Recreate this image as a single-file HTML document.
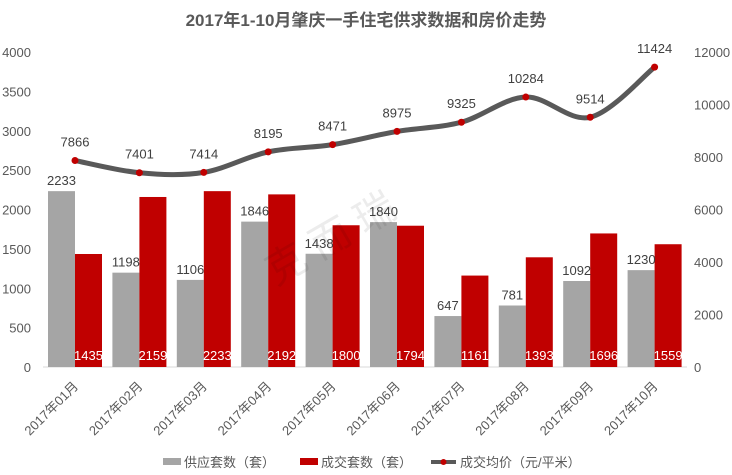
<!DOCTYPE html><html><head><meta charset="utf-8"><style>body{margin:0;background:#fff}svg{display:block;font-family:"Liberation Sans","Noto Sans CJK SC",sans-serif}</style></head><body>
<svg id="s" width="732" height="475" xmlns="http://www.w3.org/2000/svg"></svg>
<script>
const s=document.getElementById('s');let h='';
const sup=[2233,1198,1106,1846,1438,1840,647,781,1092,1230],
deal=[1435,2159,2233,2192,1800,1794,1161,1393,1696,1559],
pr=[7866,7401,7414,8195,8471,8975,9325,10284,9514,11424];
const base=367,k=315/4000,k2=315/12000;
h+=`<text x="366" y="26" text-anchor="middle" font-size="17" font-weight="bold" fill="#595959">2017年1-10月肇庆一手住宅供求数据和房价走势</text>`;
for(let i=0;i<=8;i++){let v=i*500,y=base-v*k;h+=`<text x="31" y="${y+5}" text-anchor="end" font-size="13" fill="#595959">${v}</text>`;}
for(let i=0;i<=6;i++){let v=i*2000,y=base-v*k2;h+=`<text x="694" y="${y+5}" font-size="13" fill="#595959">${v}</text>`;}
h+=`<line x1="43" y1="${base}" x2="687" y2="${base}" stroke="#d9d9d9"/>`;
const cx=i=>75+i*64.4;
for(let i=0;i<10;i++){let c=cx(i),g=sup[i]*k,r=deal[i]*k;
h+=`<rect x="${c-27}" y="${base-g}" width="27" height="${g}" fill="#a5a5a5"/>`;
h+=`<rect x="${c}" y="${base-r}" width="27" height="${r}" fill="#c00000"/>`;
h+=`<text x="${c-13.5}" y="${base-g-6}" text-anchor="middle" font-size="13" fill="#404040">${sup[i]}</text>`;
h+=`<text x="${c+13.5}" y="360" text-anchor="middle" font-size="13" fill="#fff">${deal[i]}</text>`;
h+=`<text transform="translate(${c+4},387) rotate(-45)" text-anchor="end" font-size="13" fill="#595959">2017年${String(i+1).padStart(2,'0')}月</text>`;}
const P=pr.map((v,i)=>[cx(i),base-v*k2]);
let d=`M${P[0][0]},${P[0][1]}`;
for(let i=0;i<9;i++){let p0=P[Math.max(0,i-1)],p1=P[i],p2=P[i+1],p3=P[Math.min(9,i+2)],t=6;
d+=` C${p1[0]+(p2[0]-p0[0])/t},${p1[1]+(p2[1]-p0[1])/t} ${p2[0]-(p3[0]-p1[0])/t},${p2[1]-(p3[1]-p1[1])/t} ${p2[0]},${p2[1]}`;}
h+=`<path d="${d}" fill="none" stroke="#595959" stroke-width="5" stroke-linecap="round"/>`;
P.forEach((p,i)=>{h+=`<circle cx="${p[0]}" cy="${p[1]}" r="3.5" fill="#c00000"/>`;
h+=`<text x="${p[0]}" y="${p[1]-14}" text-anchor="middle" font-size="13" fill="#404040">${pr[i]}</text>`;});
h+=`<rect x="163" y="458" width="18" height="7" fill="#a5a5a5"/><text x="184" y="467" font-size="13" fill="#595959">供应套数（套）</text>`;
h+=`<rect x="300" y="458" width="18" height="7" fill="#c00000"/><text x="321" y="467" font-size="13" fill="#595959">成交套数（套）</text>`;
h+=`<line x1="431" y1="462" x2="456" y2="462" stroke="#595959" stroke-width="4"/><circle cx="443.5" cy="462" r="3" fill="#c00000"/><text x="460" y="467" font-size="13" fill="#595959">成交均价（元/平米）</text>`;
h+=`<text x="250" y="250" font-size="40" fill="#000" opacity="0.07" transform="rotate(-30 330 220)">克 而 瑞</text>`;
s.innerHTML=h;
</script></body></html>
